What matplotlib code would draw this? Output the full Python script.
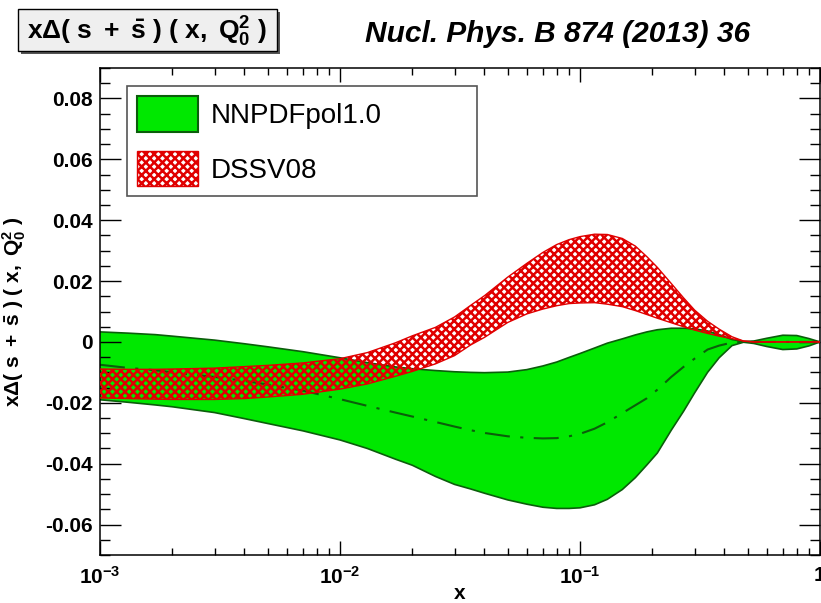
import matplotlib.pyplot as plt
import numpy as np
from matplotlib.patches import Patch, Rectangle
from matplotlib.ticker import FixedLocator, MultipleLocator, NullFormatter

plt.rcParams['font.family'] = ['Liberation Sans', 'DejaVu Sans']
plt.rcParams['mathtext.fontset'] = 'custom'
plt.rcParams['mathtext.rm'] = 'Liberation Sans'
plt.rcParams['mathtext.bf'] = 'Liberation Sans:bold'
plt.rcParams['mathtext.it'] = 'Liberation Sans:italic'
plt.rcParams['hatch.linewidth'] = 1.8

# x grid
x = [0.001, 0.0013, 0.0017, 0.002, 0.003, 0.004, 0.005, 0.007, 0.01, 0.013, 0.017,
     0.02, 0.025, 0.03, 0.035, 0.04, 0.05, 0.06, 0.07, 0.08, 0.09, 0.1, 0.115, 0.13,
     0.15, 0.17, 0.19, 0.21, 0.24, 0.27, 0.3, 0.34, 0.38, 0.43, 0.48, 0.53, 0.6, 0.7,
     0.8, 0.9, 1.0]

# NNPDFpol1.0 band and central value
nn_up = [0.0033, 0.0029, 0.0024, 0.0019, 0.0006, -0.0006, -0.0016, -0.0032, -0.0052,
         -0.0068, -0.0082, -0.0088, -0.0094, -0.0098, -0.0100, -0.0101, -0.0099, -0.0091,
         -0.0079, -0.0066, -0.0051, -0.0038, -0.0020, -0.0004, 0.0010, 0.0023, 0.0033,
         0.0040, 0.0045, 0.0045, 0.0043, 0.0036, 0.0024, 0.0008, 0.0001, 0.0003, 0.0012,
         0.0022, 0.0021, 0.0011, 0.0]
nn_lo = [-0.0190, -0.0198, -0.0207, -0.0213, -0.0232, -0.0252, -0.0268, -0.0292, -0.0322,
         -0.0350, -0.0385, -0.0405, -0.0442, -0.0468, -0.0483, -0.0497, -0.0519, -0.0533,
         -0.0543, -0.0547, -0.0547, -0.0545, -0.0535, -0.0517, -0.0485, -0.0446, -0.0404,
         -0.0365, -0.0290, -0.0228, -0.0168, -0.0100, -0.0052, -0.0012, -0.0001, -0.0005,
         -0.0015, -0.0025, -0.0023, -0.0013, 0.0]
nn_cv = [-0.0075, -0.0085, -0.0093, -0.0100, -0.0115, -0.0128, -0.0140, -0.0160, -0.0188,
         -0.0210, -0.0232, -0.0245, -0.0263, -0.0278, -0.0290, -0.0299, -0.0310, -0.0315,
         -0.0317, -0.0316, -0.0310, -0.0302, -0.0285, -0.0264, -0.0234, -0.0208, -0.0185,
         -0.0157, -0.0115, -0.0082, -0.0055, -0.0025, -0.0012, -0.0002, 0.0, 0.0, 0.0,
         0.0, 0.0, 0.0, 0.0]

# DSSV08 band
ds_up = [-0.0089, -0.0090, -0.0090, -0.0089, -0.0086, -0.0081, -0.0077, -0.0069, -0.0055,
         -0.0035, -0.0003, 0.0020, 0.0048, 0.0082, 0.0120, 0.0152, 0.0213, 0.0258, 0.0294,
         0.0320, 0.0336, 0.0346, 0.0354, 0.0353, 0.0340, 0.0315, 0.0280, 0.0245, 0.0192,
         0.0145, 0.0105, 0.0068, 0.0042, 0.0017, 0.0003, 0.0, 0.0, 0.0, 0.0, 0.0, 0.0]
ds_lo = [-0.0184, -0.0186, -0.0188, -0.0189, -0.0189, -0.0186, -0.0181, -0.0172, -0.0155,
         -0.0138, -0.0113, -0.0097, -0.0072, -0.0045, -0.0010, 0.0015, 0.0064, 0.0092,
         0.0108, 0.0119, 0.0126, 0.0128, 0.0129, 0.0124, 0.0116, 0.0103, 0.0090, 0.0078,
         0.0063, 0.0050, 0.0039, 0.0028, 0.0019, 0.0011, 0.0003, 0.0, 0.0, 0.0, 0.0, 0.0,
         0.0]

ytick_vals = [-0.06, -0.04, -0.02, 0.0, 0.02, 0.04, 0.06, 0.08]
ytick_labels = ['-0.06', '-0.04', '-0.02', '0', '0.02', '0.04', '0.06', '0.08']
xtick_vals = [1e-3, 1e-2, 1e-1, 1.0]
xtick_labels = [r'$\mathbf{10^{-3}}$', r'$\mathbf{10^{-2}}$', r'$\mathbf{10^{-1}}$', r'$\mathbf{1}$']

label_tex = r'$\mathbf{x\Delta(\ s\ +\ \bar{s}\ )\ (\ x,\ Q_0^2\ )}$'

green = '#00e800'
dgreen = '#0b5e0b'
red = '#e00000'

fig = plt.figure(figsize=(8.21, 6.03), dpi=100)
ax = fig.add_axes([100/821, 48/603, 720/821, 487/603])

ax.fill_between(x, nn_lo, nn_up, facecolor=green, edgecolor='none', zorder=1)
ax.plot(x, nn_up, color=dgreen, lw=1.2, zorder=2)
ax.plot(x, nn_lo, color=dgreen, lw=1.2, zorder=2)
ax.plot(x, nn_cv, color=dgreen, lw=1.5, ls=(0, (12, 5, 1.5, 5)), zorder=2)

ax.fill_between(x, ds_lo, ds_up, facecolor='none', edgecolor=red,
                hatch='xxxx', linewidth=0, zorder=3)
ax.plot(x, ds_up, color=red, lw=1.0, zorder=4)
ax.plot(x, ds_lo, color=red, lw=1.0, zorder=4)

ax.set_xscale('log')
ax.set_xlim(1e-3, 1)
ax.set_ylim(-0.07, 0.09)

ax.xaxis.set_major_locator(FixedLocator(xtick_vals))
ax.set_xticklabels(xtick_labels, fontsize=15)
ax.xaxis.set_minor_locator(FixedLocator([m * 10.0**e for e in (-3, -2, -1) for m in range(2, 10)]))
ax.xaxis.set_minor_formatter(NullFormatter())
ax.yaxis.set_major_locator(FixedLocator(ytick_vals))
ax.set_yticklabels(ytick_labels, fontsize=15, fontweight='bold')
ax.yaxis.set_minor_locator(MultipleLocator(0.005))

ax.tick_params(which='both', direction='in', top=True, right=True, width=1.0)
ax.tick_params(axis='y', which='major', length=15, pad=5)
ax.tick_params(axis='y', which='minor', length=7)
ax.tick_params(axis='x', which='major', length=10, pad=8)
ax.tick_params(axis='x', which='minor', length=5)
for s in ax.spines.values():
    s.set_linewidth(1.1)

ax.set_xlabel('x', fontsize=15, fontweight='bold')
ax.xaxis.set_label_coords(0.499, -0.06)
ax.set_ylabel(label_tex, fontsize=15)
ax.yaxis.set_label_coords(-0.1, 0.5)

handles = [Patch(facecolor=green, edgecolor=dgreen, lw=1.5, label='NNPDFpol1.0'),
           Patch(facecolor='none', edgecolor=red, hatch='xxxx', lw=1.0, label='DSSV08')]
leg = ax.legend(handles=handles, loc='upper left', bbox_to_anchor=(0.0375, 0.963, 0.486, 0.0),
                mode='expand', fontsize=20, handlelength=2.2, handleheight=1.6,
                labelspacing=0.68, handletextpad=0.46, borderpad=0.36, borderaxespad=0,
                fancybox=False, framealpha=1)
leg.get_frame().set_edgecolor('#555555')
leg.get_frame().set_linewidth(1.2)

# title box with shadow
fig.patches.append(Rectangle((21/821, 1 - 54/603), 259/821, 42/603, transform=fig.transFigure,
                             facecolor='#555555', edgecolor='none'))
fig.patches.append(Rectangle((18/821, 1 - 51/603), 259/821, 42/603, transform=fig.transFigure,
                             facecolor='#efefef', edgecolor='black', lw=1.0))
fig.text(147/821, 1 - 40/603, label_tex, fontsize=19, ha='center', va='baseline')

fig.text(365/821, 1 - 42/603, 'Nucl. Phys. B 874 (2013) 36', fontsize=21.5,
         fontweight='bold', fontstyle='italic', ha='left', va='baseline')

fig.savefig('out.png', dpi=100)
